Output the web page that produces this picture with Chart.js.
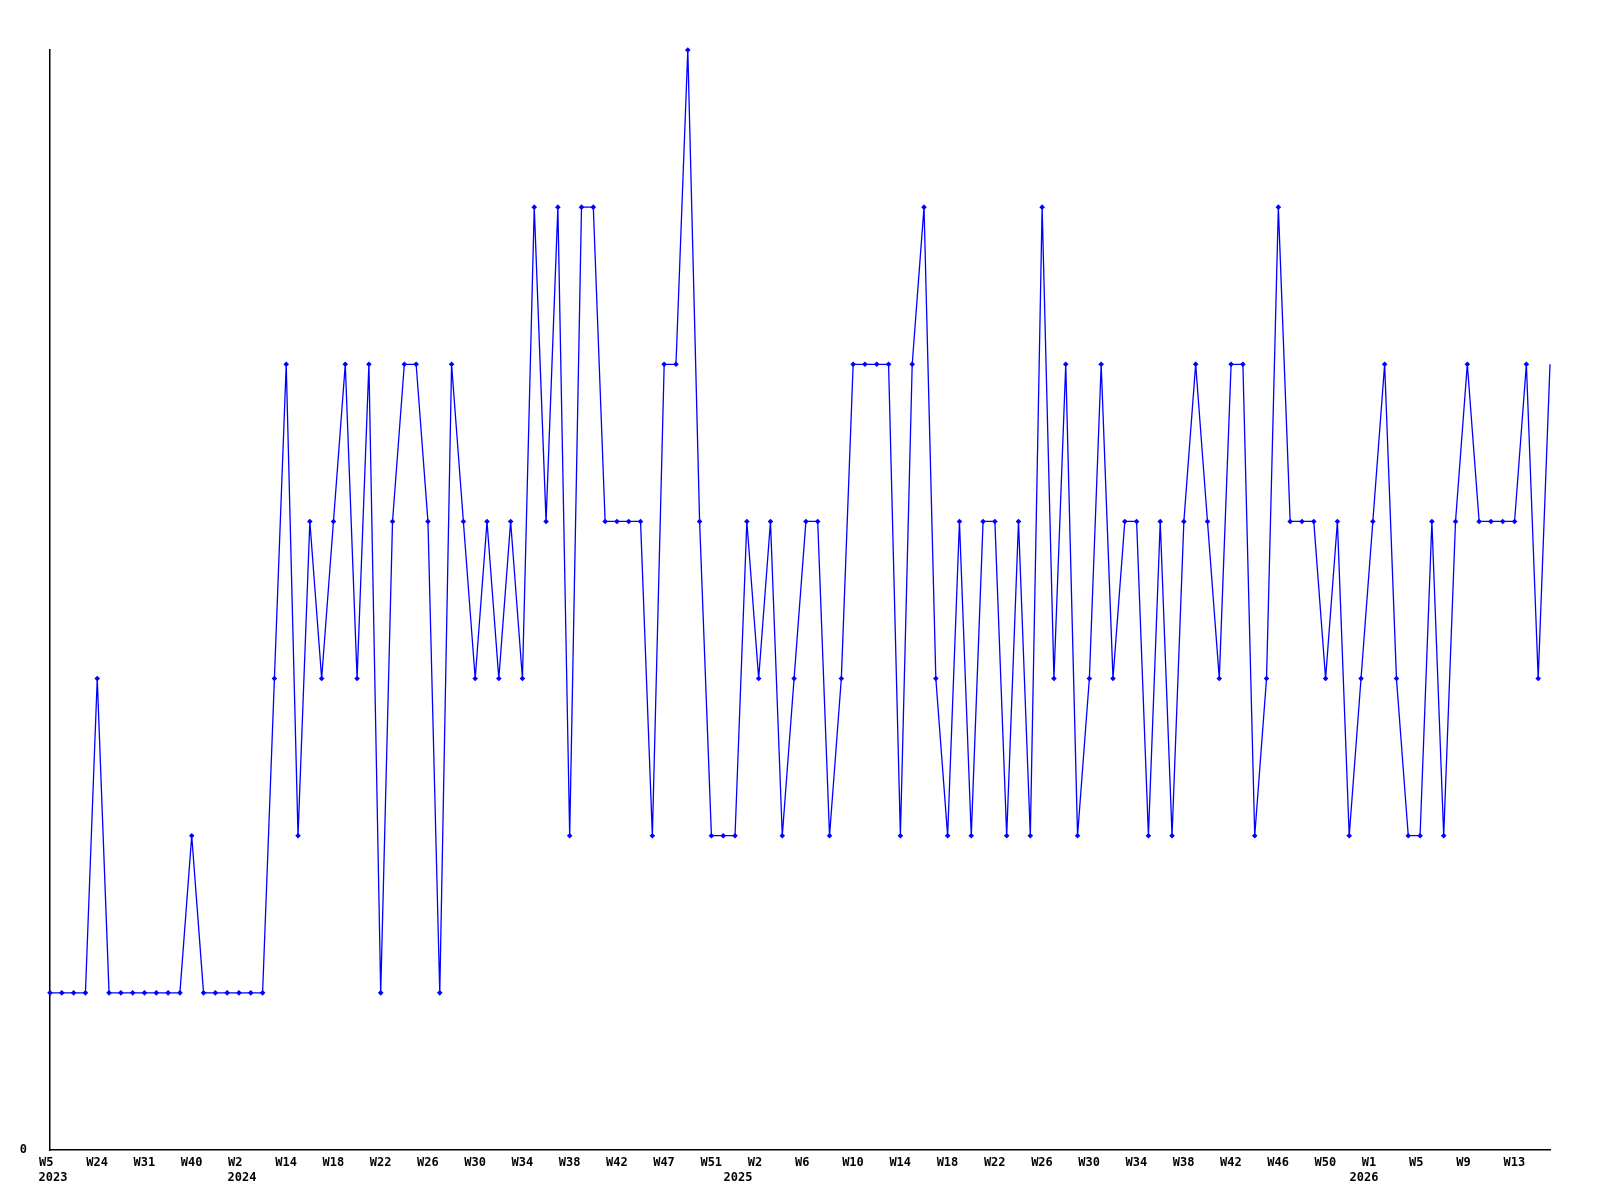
<!DOCTYPE html>
<html>
<head>
<meta charset="utf-8">
<script src="https://cdn.jsdelivr.net/npm/chart.js@4/dist/chart.umd.min.js"></script>
<style>
  html, body { margin: 0; padding: 0; background: #ffffff; }
  #wrap { width: 1600px; height: 1200px; position: relative; }
</style>
</head>
<body>
<div id="wrap"><canvas id="c" width="1600" height="1200"></canvas></div>
<script>
// Week numbers per year (each entry = one data point, in order)
const weeks2023 = [5, 9, 14, 19, 24, 25, 27, 29, 31, 33, 35, 37, 40, 43, 46, 49];
const weeks2024 = [2, 5, 8, 11, 14, 15, 16, 17, 18, 19, 20, 21, 22, 23, 24, 25, 26, 27, 28, 29, 30,
                   31, 32, 33, 34, 35, 36, 37, 38, 39, 40, 41, 42, 43, 44, 46, 47, 48, 49, 50, 51, 52];
const weeks2025 = [0, 1, 2, 3, 4, 5, 6, 7, 8, 9, 10, 11, 12, 13, 14, 15, 16, 17, 18, 19, 20, 21, 22, 23, 24, 25, 26,
                   27, 28, 29, 30, 31, 32, 33, 34, 35, 36, 37, 38, 39, 40, 41, 42, 43, 44, 45, 46, 47, 48, 49, 50, 51, 52];
const weeks2026 = [0, 1, 2, 3, 4, 5, 6, 7, 8, 9, 10, 11, 12, 13, 14, 15, 16];

// Series values
const counts = [
  1, 1, 1, 1, 3, 1, 1, 1, 1, 1, 1, 1, 2, 1, 1, 1,
  1, 1, 1, 3, 5, 2, 4, 3, 4, 5, 3, 5, 1, 4, 5, 5, 4, 1, 5, 4, 3, 4, 3, 4, 3, 6,
  4, 6, 2, 6, 6, 4, 4, 4, 4, 2, 5, 5, 7, 4, 2, 2,
  2, 4, 3, 4, 2, 3, 4, 4, 2, 3, 5, 5, 5, 5, 2, 5, 6, 3, 2, 4, 2, 4, 4, 2, 4, 2, 6, 3,
  5, 2, 3, 5, 3, 4, 4, 2, 4, 2, 4, 5, 4, 3, 5, 5, 2, 3, 6, 4, 4, 4, 3, 4, 2,
  3, 4, 5, 3, 2, 2, 4, 2, 4, 5, 4, 4, 4, 4, 5, 3, 5
];

const yearWeeks = [[2023, weeks2023], [2024, weeks2024], [2025, weeks2025], [2026, weeks2026]];
const categories = [];
const catYear = [];
const catWeek = [];
yearWeeks.forEach(([y, ws]) => ws.forEach(w => {
  categories.push(y + '-W' + w);
  catYear.push(y);
  catWeek.push(w);
}));

const FONT = { family: "'DejaVu Sans Mono', 'Liberation Mono', monospace", size: 12, weight: 'bold' };
const lastIdx = counts.length - 1;

new Chart(document.getElementById('c'), {
  type: 'line',
  data: {
    labels: categories,
    datasets: [{
      data: counts,
      borderColor: '#0000ff',
      backgroundColor: '#0000ff',
      borderWidth: 1.3,
      tension: 0,
      fill: false,
      clip: false,
      pointStyle: 'rectRot',
      pointRadius: ctx => ctx.dataIndex === lastIdx ? 0 : 2.8,
      pointBorderWidth: 0,
      pointBackgroundColor: '#0000ff'
    }]
  },
  options: {
    responsive: false,
    animation: false,
    events: [],
    layout: { padding: { top: 50, right: 50, left: 0, bottom: 0 } },
    plugins: { legend: { display: false }, tooltip: { enabled: false }, title: { display: false } },
    scales: {
      x: {
        type: 'category',
        position: 'bottom',
        weight: 0,
        offset: false,
        grid: { display: false, drawTicks: false },
        border: { display: true, color: '#000000', width: 1.5 },
        afterFit: s => { s.height = 20; },
        ticks: {
          autoSkip: false,
          maxRotation: 0,
          minRotation: 0,
          align: 'start',
          labelOffset: -11,
          padding: 6,
          color: '#000000',
          font: FONT,
          callback: (v, i) => (i % 4 === 0 ? 'W' + catWeek[i] : '')
        }
      },
      xYear: {
        type: 'category',
        position: 'bottom',
        weight: 1,
        offset: false,
        labels: categories,
        grid: { display: false, drawTicks: false },
        border: { display: false },
        afterFit: s => { s.height = 30; },
        ticks: {
          autoSkip: false,
          maxRotation: 0,
          minRotation: 0,
          labelOffset: 3,
          padding: 1,
          color: '#000000',
          font: FONT,
          callback: (v, i) => (i === 0 || catYear[i] !== catYear[i - 1] ? String(catYear[i]) : '')
        }
      },
      y: {
        min: 0,
        max: 7,
        grid: { display: false, drawTicks: false },
        border: { display: true, color: '#000000', width: 1.5 },
        afterFit: s => { s.width = 50; },
        afterBuildTicks: s => { s.ticks = [{ value: 0 }]; },
        ticks: {
          padding: 23,
          color: '#000000',
          font: FONT,
          callback: v => String(v)
        }
      }
    }
  }
});
</script>
</body>
</html>
